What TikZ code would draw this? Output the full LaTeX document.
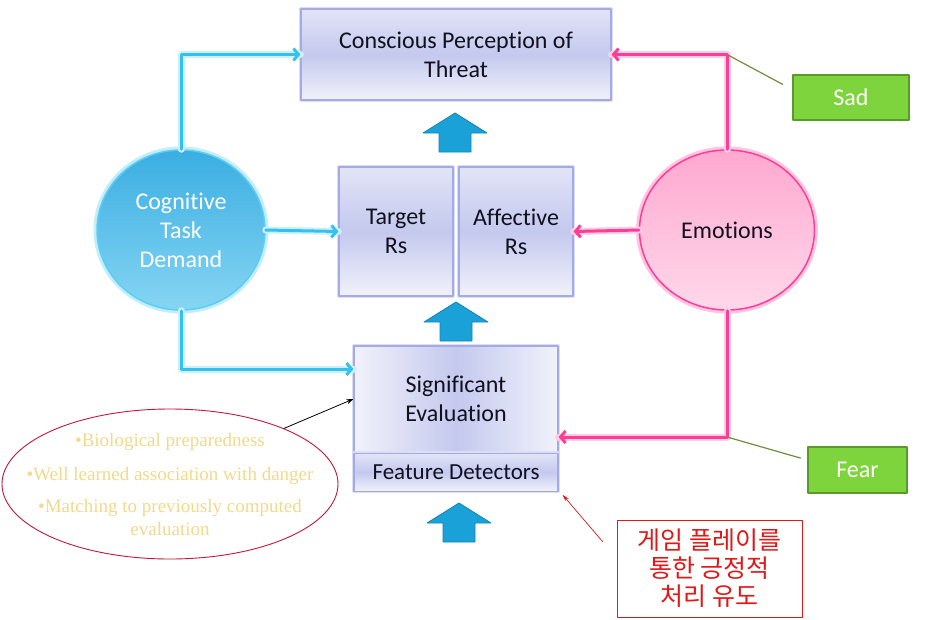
\documentclass[tikz,border=0pt]{standalone}
\usepackage{fontspec}
\setmainfont{Carlito}[Ligatures=NoCommon]
\newfontfamily\bulletfont{Liberation Serif}
\newfontfamily\korfont{Noto Sans CJK KR}
\usetikzlibrary{positioning,arrows.meta,shapes.geometric}

\definecolor{boxline}{HTML}{A4AAE3}
\definecolor{boxglow}{HTML}{DCDEF6}
\definecolor{boxtop}{HTML}{E2E4F7}
\definecolor{boxmid}{HTML}{C4C9EE}
\definecolor{boxbot}{HTML}{F1F2FB}
\definecolor{boxtext}{HTML}{10101E}
\definecolor{cyanline}{HTML}{33C2EE}
\definecolor{cogtop}{HTML}{3AAEE2}
\definecolor{cogbot}{HTML}{86D5F3}
\definecolor{pinkline}{HTML}{FF3D97}
\definecolor{blockblue}{HTML}{1AA2D8}
\definecolor{blockedge}{HTML}{0D86B8}
\definecolor{sadgreen}{HTML}{7ED43C}
\definecolor{greenedge}{HTML}{5A9A2A}
\definecolor{greenline}{HTML}{6E8F3C}
\definecolor{bulletyellow}{HTML}{F2D98C}
\definecolor{ellred}{HTML}{C8163A}
\definecolor{korred}{HTML}{E01818}

\begin{document}
\begin{tikzpicture}[line cap=round,line join=round,x=1pt,y=-1pt,
    basebox/.style={draw=boxline,line width=1.2pt,align=center,inner sep=0pt,text=boxtext,
      font=\fontsize{24}{29}\selectfont,
      preaction={draw=boxglow,line width=4pt}},
    box/.style={basebox,top color=boxtop,bottom color=boxbot,middle color=boxmid},
    widebox/.style={basebox,left color=boxbot,right color=boxbot,middle color=boxmid},
    cogball/.style={ellipse,draw=cyanline!80,line width=1.5pt,top color=cogtop,
      bottom color=cogbot,text=white,align=center,inner sep=0pt,
      font=\fontsize{24}{29}\selectfont,preaction={draw=cyanline!30,line width=7pt}},
    emoball/.style={ellipse,draw=pinkline,line width=1.5pt,top color=pinkline!45,
      bottom color=pinkline!20,text=boxtext,align=center,inner sep=0pt,
      font=\fontsize{24}{29}\selectfont,preaction={draw=pinkline!30,line width=7pt}},
    greenbox/.style={draw=greenedge,line width=1.5pt,fill=sadgreen,text=white,inner sep=0pt,
      font=\fontsize{24}{28}\selectfont},
    cyanlink/.style={draw=cyanline,line width=3pt,-{Straight Barb[length=5pt,width=12pt]},
      preaction={-,draw=cyanline!25,line width=7pt}},
    pinklink/.style={draw=pinkline,line width=3pt,-{Straight Barb[length=5pt,width=12pt]},
      preaction={-,draw=pinkline!25,line width=7pt}},
    greenlink/.style={draw=greenline,line width=1.2pt},
    block/.style={fill=blockblue,draw=blockedge,line width=0.8pt}]

  \useasboundingbox (0,0) rectangle (939,619);
  \fill[white] (0,0) rectangle (939,619);

  % boxes in the middle column
  \node[box,minimum width=310pt,minimum height=91pt] (cpt) at (456,54.5)
    {Conscious Perception of\\Threat};
  \node[box,minimum width=114pt,minimum height=129pt] (tgt) at (396,231.5) {Target\\Rs};
  \node[box,minimum width=114pt,minimum height=129pt] (afr) at (516,231.5) {Affective\\Rs};
  \node[widebox,minimum width=204pt,minimum height=106pt] (sig) at (456,399)
    {Significant\\Evaluation};
  \node[box,minimum width=204pt,minimum height=38pt,below=0pt of sig,
    font=\fontsize{23}{26}\selectfont] (feat) {Feature Detectors};

  % side circles
  \node[cogball,minimum width=168pt,minimum height=160pt] (cog) at (181,230)
    {Cognitive\\Task\\Demand};
  \node[emoball,minimum width=175pt,minimum height=160pt] (emo) at (727,230) {Emotions};

  % labels on the right
  \node[greenbox,minimum width=116pt,minimum height=45pt] (sad) at (851,97.5) {Sad};
  \node[greenbox,minimum width=99pt,minimum height=46pt] (fear) at (857.5,470) {Fear};

  % notes
  \node[ellipse,draw=ellred,line width=0.9pt,minimum width=336pt,minimum height=150pt,
    inner sep=0pt] (bul) at (170,484) {};
  \node[align=center,inner sep=0pt,text=bulletyellow,
    font=\bulletfont\fontsize{19}{23}\selectfont] (bultext) at (bul.center)
    {\textbullet Biological preparedness\\[11pt]
     \textbullet Well learned association with danger\\[9pt]
     \textbullet Matching to previously computed\\evaluation};
  \node[draw=korred,line width=0.9pt,minimum width=185pt,minimum height=97pt,inner sep=0pt,
    align=center,text=korred,font=\korfont\fontsize{25}{28}\selectfont]
    (kor) at (709.5,568.5) {게임 플레이를\\통한 긍정적\\처리 유도};

  % block arrows
  \foreach \cx/\ty in {455/113,456/302,459/503}
    \draw[block] ({\cx-16},{\ty+39}) -- ({\cx-16},{\ty+20}) -- ({\cx-32},{\ty+20})
      -- (\cx,\ty) -- ({\cx+32},{\ty+20}) -- ({\cx+16},{\ty+20})
      -- ({\cx+16},{\ty+39}) -- cycle;

  % connectors
  \path (sig.west) ++(0,-30) coordinate (sigcyan);
  \path (sig.east) ++(0,38) coordinate (sigpink);

  \draw[cyanlink] (cog.north) |- (cpt.west);
  \draw[cyanlink] (cog.east) -- (tgt.west);
  \draw[cyanlink] (cog.south) |- (sigcyan);

  \draw[pinklink] (emo.north) |- (cpt.east);
  \draw[pinklink] (emo.west) -- (afr.east);
  \draw[pinklink] (emo.south) |- (sigpink);

  \draw[greenlink,shorten >=11pt] (emo.north |- cpt.east) -- ([yshift=8pt]sad.west);
  \draw[greenlink,shorten >=7pt] (emo.south |- sigpink) -- ([yshift=10pt]fear.west);

  \draw[line width=0.8pt,-{Stealth[length=7pt,width=5pt]}] (bul.26) -- (sig.west);
  \draw[korred,line width=0.7pt,-{Stealth[length=7pt,width=4pt]}]
    ([xshift=-14pt,yshift=-22pt]kor.north west) -- ([xshift=4pt,yshift=-3pt]feat.south east);
\end{tikzpicture}
\end{document}
